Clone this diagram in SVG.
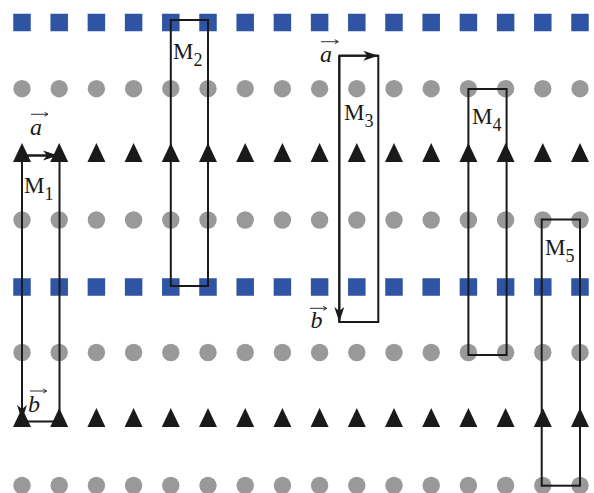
<svg xmlns="http://www.w3.org/2000/svg" xmlns:xlink="http://www.w3.org/1999/xlink" width="594" height="493" viewBox="0 0 594 493">
<style>
.frame{fill:none;stroke:#1a1a1a;stroke-width:2;}
.arr{fill:none;stroke:#1a1a1a;stroke-width:2;marker-end:url(#head);}
.lbl{font-family:"Liberation Serif","Times New Roman",serif;font-size:23px;fill:#1a1a1a;}
.sub{font-size:18px;}
.vec{font-family:"Liberation Serif","Times New Roman",serif;font-style:italic;font-size:24px;fill:#1a1a1a;}
.va{fill:none;stroke:#1a1a1a;stroke-width:0.9;}
</style>
<defs>
<rect id="sq" x="-8.75" y="-8.75" width="17.5" height="17.5" fill="#2f54a3"/>
<circle id="ci" r="8.7" fill="#999999"/>
<path id="tr" d="M0,-12 L9,7 L-9,7 Z" fill="#1a1a1a"/>
<marker id="head" markerUnits="userSpaceOnUse" markerWidth="16" markerHeight="12" refX="15" refY="6" orient="auto">
<path d="M0,1 L15,6 L0,11 L4,6 Z" fill="#1a1a1a"/>
</marker>
</defs>
<rect width="594" height="493" fill="#ffffff"/>
<g id="grid">
<g id="row-squares-1">
<use href="#sq" x="22" y="22.5"/><use href="#sq" x="59.2" y="22.5"/><use href="#sq" x="96.4" y="22.5"/><use href="#sq" x="133.6" y="22.5"/><use href="#sq" x="170.8" y="22.5"/><use href="#sq" x="208" y="22.5"/><use href="#sq" x="245.2" y="22.5"/><use href="#sq" x="282.4" y="22.5"/><use href="#sq" x="319.6" y="22.5"/><use href="#sq" x="356.8" y="22.5"/><use href="#sq" x="394" y="22.5"/><use href="#sq" x="431.2" y="22.5"/><use href="#sq" x="468.4" y="22.5"/><use href="#sq" x="505.6" y="22.5"/><use href="#sq" x="542.8" y="22.5"/><use href="#sq" x="580" y="22.5"/>
</g>
<g id="row-circles-1">
<use href="#ci" x="22" y="88.7"/><use href="#ci" x="59.2" y="88.7"/><use href="#ci" x="96.4" y="88.7"/><use href="#ci" x="133.6" y="88.7"/><use href="#ci" x="170.8" y="88.7"/><use href="#ci" x="208" y="88.7"/><use href="#ci" x="245.2" y="88.7"/><use href="#ci" x="282.4" y="88.7"/><use href="#ci" x="319.6" y="88.7"/><use href="#ci" x="356.8" y="88.7"/><use href="#ci" x="394" y="88.7"/><use href="#ci" x="431.2" y="88.7"/><use href="#ci" x="468.4" y="88.7"/><use href="#ci" x="505.6" y="88.7"/><use href="#ci" x="542.8" y="88.7"/><use href="#ci" x="580" y="88.7"/>
</g>
<g id="row-triangles-1">
<use href="#tr" x="22" y="155"/><use href="#tr" x="59.2" y="155"/><use href="#tr" x="96.4" y="155"/><use href="#tr" x="133.6" y="155"/><use href="#tr" x="170.8" y="155"/><use href="#tr" x="208" y="155"/><use href="#tr" x="245.2" y="155"/><use href="#tr" x="282.4" y="155"/><use href="#tr" x="319.6" y="155"/><use href="#tr" x="356.8" y="155"/><use href="#tr" x="394" y="155"/><use href="#tr" x="431.2" y="155"/><use href="#tr" x="468.4" y="155"/><use href="#tr" x="505.6" y="155"/><use href="#tr" x="542.8" y="155"/><use href="#tr" x="580" y="155"/>
</g>
<g id="row-circles-2">
<use href="#ci" x="22" y="220"/><use href="#ci" x="59.2" y="220"/><use href="#ci" x="96.4" y="220"/><use href="#ci" x="133.6" y="220"/><use href="#ci" x="170.8" y="220"/><use href="#ci" x="208" y="220"/><use href="#ci" x="245.2" y="220"/><use href="#ci" x="282.4" y="220"/><use href="#ci" x="319.6" y="220"/><use href="#ci" x="356.8" y="220"/><use href="#ci" x="394" y="220"/><use href="#ci" x="431.2" y="220"/><use href="#ci" x="468.4" y="220"/><use href="#ci" x="505.6" y="220"/><use href="#ci" x="542.8" y="220"/><use href="#ci" x="580" y="220"/>
</g>
<g id="row-squares-2">
<use href="#sq" x="22" y="287"/><use href="#sq" x="59.2" y="287"/><use href="#sq" x="96.4" y="287"/><use href="#sq" x="133.6" y="287"/><use href="#sq" x="170.8" y="287"/><use href="#sq" x="208" y="287"/><use href="#sq" x="245.2" y="287"/><use href="#sq" x="282.4" y="287"/><use href="#sq" x="319.6" y="287"/><use href="#sq" x="356.8" y="287"/><use href="#sq" x="394" y="287"/><use href="#sq" x="431.2" y="287"/><use href="#sq" x="468.4" y="287"/><use href="#sq" x="505.6" y="287"/><use href="#sq" x="542.8" y="287"/><use href="#sq" x="580" y="287"/>
</g>
<g id="row-circles-3">
<use href="#ci" x="22" y="352.5"/><use href="#ci" x="59.2" y="352.5"/><use href="#ci" x="96.4" y="352.5"/><use href="#ci" x="133.6" y="352.5"/><use href="#ci" x="170.8" y="352.5"/><use href="#ci" x="208" y="352.5"/><use href="#ci" x="245.2" y="352.5"/><use href="#ci" x="282.4" y="352.5"/><use href="#ci" x="319.6" y="352.5"/><use href="#ci" x="356.8" y="352.5"/><use href="#ci" x="394" y="352.5"/><use href="#ci" x="431.2" y="352.5"/><use href="#ci" x="468.4" y="352.5"/><use href="#ci" x="505.6" y="352.5"/><use href="#ci" x="542.8" y="352.5"/><use href="#ci" x="580" y="352.5"/>
</g>
<g id="row-triangles-2">
<use href="#tr" x="22" y="420"/><use href="#tr" x="59.2" y="420"/><use href="#tr" x="96.4" y="420"/><use href="#tr" x="133.6" y="420"/><use href="#tr" x="170.8" y="420"/><use href="#tr" x="208" y="420"/><use href="#tr" x="245.2" y="420"/><use href="#tr" x="282.4" y="420"/><use href="#tr" x="319.6" y="420"/><use href="#tr" x="356.8" y="420"/><use href="#tr" x="394" y="420"/><use href="#tr" x="431.2" y="420"/><use href="#tr" x="468.4" y="420"/><use href="#tr" x="505.6" y="420"/><use href="#tr" x="542.8" y="420"/><use href="#tr" x="580" y="420"/>
</g>
<g id="row-circles-4">
<use href="#ci" x="22" y="485.5"/><use href="#ci" x="59.2" y="485.5"/><use href="#ci" x="96.4" y="485.5"/><use href="#ci" x="133.6" y="485.5"/><use href="#ci" x="170.8" y="485.5"/><use href="#ci" x="208" y="485.5"/><use href="#ci" x="245.2" y="485.5"/><use href="#ci" x="282.4" y="485.5"/><use href="#ci" x="319.6" y="485.5"/><use href="#ci" x="356.8" y="485.5"/><use href="#ci" x="394" y="485.5"/><use href="#ci" x="431.2" y="485.5"/><use href="#ci" x="468.4" y="485.5"/><use href="#ci" x="505.6" y="485.5"/><use href="#ci" x="542.8" y="485.5"/><use href="#ci" x="580" y="485.5"/>
</g>
</g>
<g id="M1">
<rect class="frame" x="22" y="155.5" width="37.5" height="266"/>
<text class="lbl" x="24" y="193">M<tspan class="sub" dy="7">1</tspan></text>
</g>
<g id="M2">
<rect class="frame" x="170.8" y="20" width="37.2" height="266"/>
<text class="lbl" x="173" y="58.5">M<tspan class="sub" dy="7">2</tspan></text>
</g>
<g id="M3">
<rect class="frame" x="339.3" y="55.7" width="39" height="266.3"/>
<text class="lbl" x="344" y="119.5">M<tspan class="sub" dy="7">3</tspan></text>
</g>
<g id="M4">
<rect class="frame" x="468.4" y="89" width="38.2" height="266"/>
<text class="lbl" x="472" y="123.5">M<tspan class="sub" dy="7">4</tspan></text>
</g>
<g id="M5">
<rect class="frame" x="541.7" y="219.5" width="38.3" height="266.2"/>
<text class="lbl" x="545" y="255">M<tspan class="sub" dy="7">5</tspan></text>
</g>
<g id="connectors">
<path class="arr" d="M22,155.5 H58"/>
<path class="arr" d="M22,155.5 V420"/>
<path class="arr" d="M339.3,55.7 H378.3"/>
<path class="arr" d="M339.3,55.7 V322"/>
</g>
<g id="vector-labels">
<text class="vec" x="30" y="135">a</text>
<path class="va" d="M31,114.3 H48 M44.5,112.3 L48,114.3 L44.5,116.3"/>
<text class="vec" x="28" y="411.7">b</text>
<path class="va" d="M30,391 H46.7 M43.2,389 L46.7,391 L43.2,393"/>
<text class="vec" x="320" y="61.7">a</text>
<path class="va" d="M321,41.7 H338.3 M334.8,39.7 L338.3,41.7 L334.8,43.7"/>
<text class="vec" x="310.5" y="328.3">b</text>
<path class="va" d="M310,308.3 H326.7 M323.2,306.3 L326.7,308.3 L323.2,310.3"/>
</g>
</svg>
